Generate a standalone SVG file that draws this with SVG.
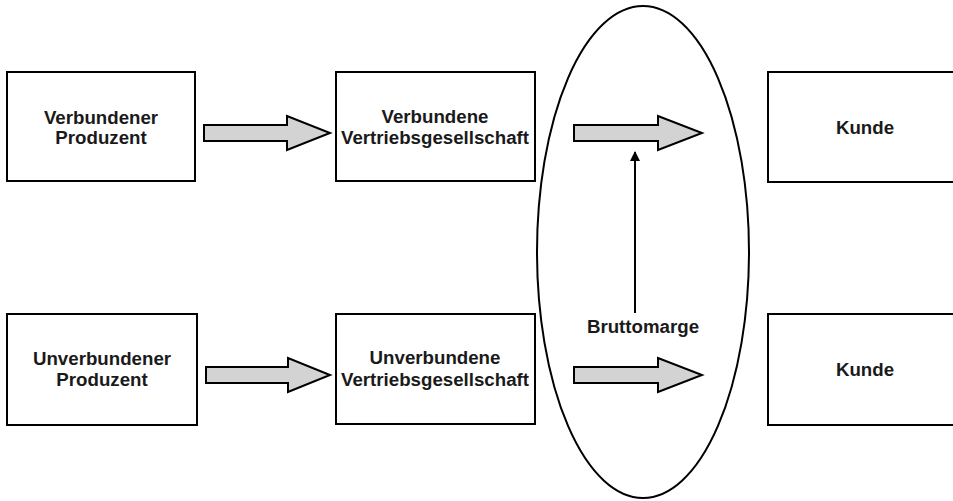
<svg xmlns="http://www.w3.org/2000/svg" width="953" height="501" viewBox="0 0 953 501">
  <style>
    .box { fill: #ffffff; stroke: #000000; stroke-width: 2; }
    .lbl { font-family: "Liberation Sans", Arial, sans-serif; font-weight: bold; font-size: 18.7px; fill: #1a1a1a; text-anchor: middle; }
    .flow { fill: #d3d3d3; stroke: #000000; stroke-width: 2; stroke-linejoin: miter; }
    .ring { fill: none; stroke: #000000; stroke-width: 2; }
    .line { stroke: #000000; stroke-width: 2; fill: none; }
  </style>
  <defs>
    <marker id="tip" viewBox="0 0 10 10" refX="9" refY="5" markerWidth="5" markerHeight="5" orient="auto">
      <path d="M0,0 L10,5 L0,10 z" fill="#000000"/>
    </marker>
  </defs>
  <rect width="953" height="501" fill="#ffffff"/>

  <!-- margin zone -->
  <g id="margin-zone">
    <ellipse class="ring" cx="643" cy="252" rx="106" ry="246"/>
  </g>

  <g id="verbundener-produzent">
    <rect class="box" x="7" y="72" width="188" height="109"/>
    <text class="lbl" x="101" y="124">Verbundener</text>
    <text class="lbl" x="101" y="144">Produzent</text>
  </g>
  <g id="verbundene-vertrieb">
    <rect class="box" x="336" y="72" width="199" height="109"/>
    <text class="lbl" x="435" y="123">Verbundene</text>
    <text class="lbl" x="435" y="144">Vertriebsgesellschaft</text>
  </g>
  <g id="kunde-oben">
    <rect class="box" x="768" y="72" width="200" height="110"/>
    <text class="lbl" x="865" y="134">Kunde</text>
  </g>

  <g id="unverbundener-produzent">
    <rect class="box" x="7" y="314" width="190" height="111"/>
    <text class="lbl" x="102" y="365">Unverbundener</text>
    <text class="lbl" x="102" y="386">Produzent</text>
  </g>
  <g id="unverbundene-vertrieb">
    <rect class="box" x="336" y="314" width="199" height="110"/>
    <text class="lbl" x="435" y="364">Unverbundene</text>
    <text class="lbl" x="435" y="386">Vertriebsgesellschaft</text>
  </g>
  <g id="kunde-unten">
    <rect class="box" x="768" y="314" width="200" height="111"/>
    <text class="lbl" x="865" y="376">Kunde</text>
  </g>

  <g id="bruttomarge">
    <text class="lbl" x="643" y="333">Bruttomarge</text>
  </g>

  <g id="connectors">
    <!-- block arrows -->
    <path class="flow" d="M204,125 H287 V116 L330,133 L287,150 V141 H204 Z"/>
    <path class="flow" d="M574,125 H658 V116 L702,133 L658,150 V141 H574 Z"/>
    <path class="flow" d="M206,367 H288 V358 L330,375 L288,392 V383 H206 Z"/>
    <path class="flow" d="M574,367 H658 V358 L702,375 L658,392 V383 H574 Z"/>
    <!-- margin pointer -->
    <line class="line" x1="635" y1="313" x2="635" y2="152" marker-end="url(#tip)"/>
  </g>
</svg>
